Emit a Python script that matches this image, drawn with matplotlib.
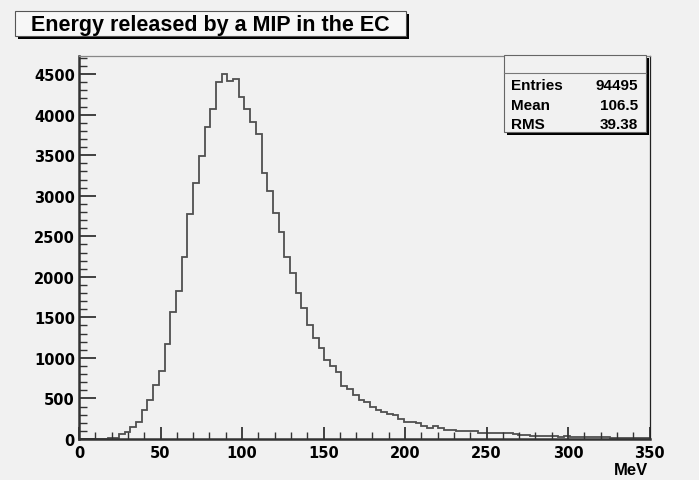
import matplotlib
matplotlib.use("Agg")
import matplotlib.pyplot as plt
import numpy as np
from matplotlib.patches import Rectangle
from matplotlib.ticker import MultipleLocator

# histogram: 100 bins of 3.5 MeV between 0 and 350 MeV
x_range = (0, 350)
n_bins = 100
counts = [
    0, 0, 0, 0, 3, 8, 16, 58, 82, 148,
    214, 357, 485, 670, 838, 1175, 1570, 1825, 2245, 2774,
    3152, 3493, 3851, 4065, 4398, 4505, 4418, 4435, 4217, 4073,
    3905, 3761, 3284, 3054, 2790, 2550, 2244, 2047, 1796, 1619,
    1406, 1241, 1118, 970, 896, 822, 657, 616, 542, 481,
    452, 391, 357, 329, 304, 290, 250, 215, 205, 193,
    164, 136, 156, 136, 111, 111, 103, 103, 95, 95,
    74, 74, 70, 70, 70, 70, 58, 45, 52, 41,
    41, 38, 33, 33, 30, 33, 28, 21, 21, 24,
    24, 21, 20, 17, 16, 14, 12, 12, 10, 9,
]
title = "Energy released by a MIP in the EC"
xlabel = "MeV"
stat_names = ["Entries", "Mean", "RMS"]
stat_values = ["94495", "106.5", "39.38"]

W, H = 699, 481
bg = "#f1f1f1"
plt.rcParams['font.family'] = ['Liberation Sans', 'DejaVu Sans']
plt.rcParams['font.weight'] = 'bold'

fig = plt.figure(figsize=(W / 100, H / 100), dpi=100, facecolor=bg)


def fx(px):
    return px / W


def fy(py):
    return 1 - py / H


ax = fig.add_axes([fx(79), fy(440), fx(649.5) - fx(79), fy(56.5) - fy(440)])
ax.set_facecolor(bg)

edges = np.linspace(x_range[0], x_range[1], n_bins + 1)
ax.stairs(counts, edges, color="#505050", lw=1.3)

ax.set_xlim(*x_range)
ax.set_ylim(0, max(counts) * 1.05)

ax.xaxis.set_major_locator(MultipleLocator(50))
ax.xaxis.set_minor_locator(MultipleLocator(10))
ax.yaxis.set_major_locator(MultipleLocator(500))
ax.yaxis.set_minor_locator(MultipleLocator(100))
ax.tick_params(which='both', direction='in', colors='#333333', top=False, right=False)
ax.tick_params(axis='x', which='major', length=9, width=1.3, pad=4)
ax.tick_params(axis='x', which='minor', length=5, width=1.0)
ax.tick_params(axis='y', which='major', length=12, width=1.3, pad=3)
ax.tick_params(axis='y', which='minor', length=6, width=1.0)
for lab in ax.get_xticklabels() + ax.get_yticklabels():
    lab.set_color('black')
    lab.set_family(['DejaVu Sans'])
    lab.set_fontweight('bold')
    lab.set_fontsize(10.5)

ax.spines['left'].set_color('#333333')
ax.spines['left'].set_linewidth(1.8)
ax.spines['bottom'].set_color('#333333')
ax.spines['bottom'].set_linewidth(1.8)
ax.spines['top'].set_color('#888888')
ax.spines['top'].set_linewidth(0.9)
ax.spines['right'].set_color('#222222')
ax.spines['right'].set_linewidth(0.9)

fig.text(fx(648), fy(471), xlabel, ha='right', va='center', fontsize=12, fontweight='bold')

# title box with shadow
tx0, tx1, ty0, ty1 = 15, 406, 12, 37
fig.patches.append(Rectangle((fx(tx0 + 3), fy(ty1 + 3)), fx(tx1 - tx0), fy(ty0) - fy(ty1),
                             transform=fig.transFigure, facecolor='black', edgecolor='none'))
fig.patches.append(Rectangle((fx(tx0), fy(ty1)), fx(tx1 - tx0), fy(ty0) - fy(ty1),
                             transform=fig.transFigure, facecolor='#f7f7f7',
                             edgecolor='#555555', lw=0.8))
fig.text(fx(210), fy(25.5), title, ha='center', va='center',
         fontsize=15.5, fontweight='bold')

# stats box with shadow
sx0, sx1, sy0, sy1 = 504, 646, 56, 132.5
fig.patches.append(Rectangle((fx(sx0 + 3), fy(sy1 + 3)), fx(sx1 - sx0), fy(sy0) - fy(sy1),
                             transform=fig.transFigure, facecolor='black', edgecolor='none'))
fig.patches.append(Rectangle((fx(sx0), fy(sy1)), fx(sx1 - sx0), fy(sy0) - fy(sy1),
                             transform=fig.transFigure, facecolor=bg,
                             edgecolor='#666666', lw=0.8))
fig.lines.append(plt.Line2D([fx(sx0), fx(sx1)], [fy(74.3), fy(74.3)], transform=fig.transFigure,
                            color='#777777', lw=0.8))
for i, (name, val) in enumerate(zip(stat_names, stat_values)):
    yy = fy(86.5 + i * 19.5)
    fig.text(fx(511.5), yy, name, ha='left', va='center', fontsize=11, fontweight='bold')
    fig.text(fx(638), yy, val, ha='right', va='center', fontsize=11, fontweight='bold')

fig.savefig("out.png", dpi=100, facecolor=bg)
